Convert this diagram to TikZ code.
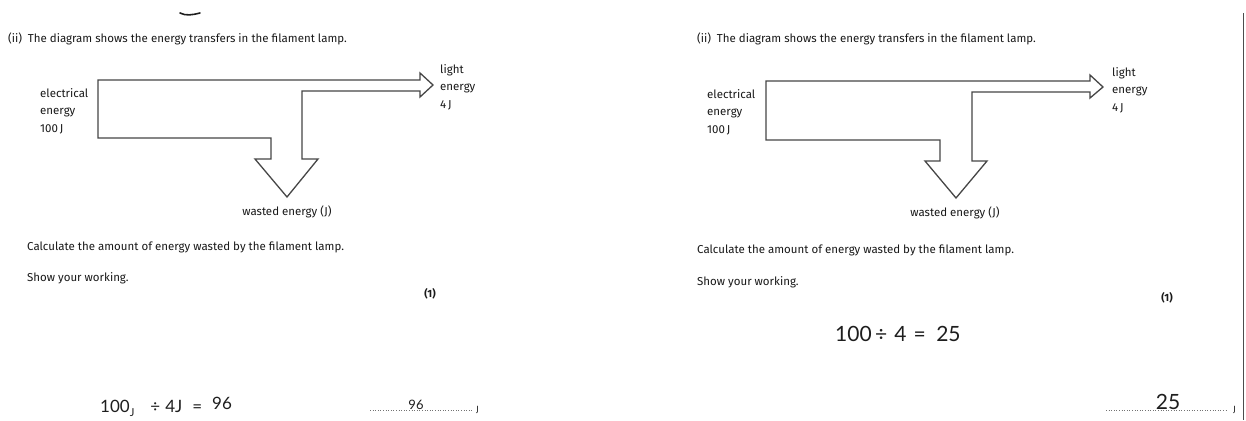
\documentclass[tikz,border=0pt]{standalone}
\usepackage{fontspec}
\setmainfont{Fira Sans}
\newfontfamily\handfont{Lato}
\usetikzlibrary{positioning}
\definecolor{inkC}{RGB}{25,25,25}
\definecolor{lineC}{RGB}{70,70,70}
\definecolor{penC}{RGB}{30,30,30}

\begin{document}
\begin{tikzpicture}[x=1pt, y=-1pt,
  txt/.style={anchor=base west, inner sep=0pt, text=inkC, font=\fontsize{11.5}{17.5}\selectfont},
  lab/.style={txt, anchor=west, align=left},
  flow/.style={draw=lineC, line width=1.3pt, line join=miter},
  hand/.style={anchor=base west, inner sep=0pt, text=penC, font=\handfont\fontsize{17}{17}\selectfont},
  dots/.style={draw=black!55, line width=0.6pt, dotted},
  edge/.style={draw=black!70, line width=1pt},
]
\useasboundingbox (0,0) rectangle (1246,420);
\fill[white] (0,0) rectangle (1246,420);

% ---------------- left sheet ----------------
\draw[penC, line width=1.6pt, line cap=round] (180,13) .. controls (186,16) and (192,15) .. (200,13);
\node[txt] (titleL) at (8,42) {(ii)\enspace The diagram shows the energy transfers in the filament lamp.};

\draw[flow] (98,80) -- (420,80) -- (420,73) -- (433,85) -- (420,97) -- (420,91)
  -- (302,91) -- (302,159) -- (318,159) -- (287,197) -- (255,159) -- (271,159)
  -- (271,138) -- (98,138) -- cycle;

\node[lab] (elecL)  at (40,111) {electrical\\energy\\100\,J};
\node[lab] (lightL) at (440,87) {light\\energy\\4\,J};
\node[txt, anchor=base] (wasteL) at (287,215) {wasted energy (J)};

\node[txt] (calcL) at (27,250) {Calculate the amount of energy wasted by the filament lamp.};
\node[txt] (showL) at (27,281) {Show your working.};
\node[txt, anchor=base, font=\bfseries\fontsize{10.5}{12}\selectfont] (markL) at (430,297) {(1)};

\node[hand] (workL) at (100,412) {100\raisebox{-4pt}{\fontsize{11}{11}\selectfont J}\hspace{16pt}÷\hspace{5pt}4J\hspace{10pt}=\hspace{10pt}\raisebox{3pt}{96}};
\coordinate (ansLa) at (370,410);
\coordinate (ansLb) at (472,410);
\draw[dots] (ansLa) -- (ansLb);
\node[hand, anchor=base, font=\handfont\fontsize{13}{13}\selectfont] (ansL) at (416,409) {96};
\node[txt, font=\fontsize{9}{10}\selectfont] (unitL) at (476,412) {J};

% ---------------- right sheet ----------------
\node[txt] (titleR) at (697,43) {(ii)\enspace The diagram shows the energy transfers in the filament lamp.};

\draw[flow] (766,81) -- (1090,81) -- (1090,75) -- (1103,87) -- (1090,98) -- (1090,92)
  -- (972,92) -- (972,161) -- (987,161) -- (956,198) -- (925,161) -- (940,161)
  -- (940,140) -- (766,140) -- cycle;

\node[lab] (elecR)  at (707,112) {electrical\\energy\\100\,J};
\node[lab] (lightR) at (1112,90) {light\\energy\\4\,J};
\node[txt, anchor=base] (wasteR) at (955,216) {wasted energy (J)};

\node[txt] (calcR) at (697,253) {Calculate the amount of energy wasted by the filament lamp.};
\node[txt] (showR) at (697,285) {Show your working.};
\node[txt, anchor=base, font=\bfseries\fontsize{10.5}{12}\selectfont] (markR) at (1167,301) {(1)};

\node[hand, font=\handfont\fontsize{21}{21}\selectfont] (workR) at (835,341) {100\,÷\,\,4\,\,=\,\,\,25};
\coordinate (ansRa) at (1106,410);
\coordinate (ansRb) at (1228,410);
\draw[dots] (ansRa) -- (ansRb);
\node[hand, anchor=base, font=\handfont\fontsize{21}{21}\selectfont] (ansR) at (1168,409) {25};
\node[txt, font=\fontsize{9}{10}\selectfont] (unitR) at (1233,412) {J};

\coordinate (edgeT) at (1243,13);
\coordinate (edgeB) at (1243,420);
\draw[edge] (edgeT) -- (edgeB);

\end{tikzpicture}
\end{document}
